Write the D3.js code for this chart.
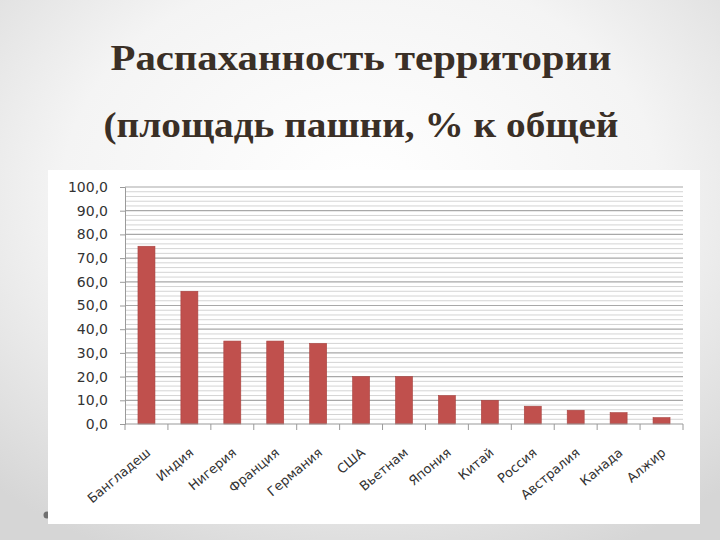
<!DOCTYPE html>
<html><head><meta charset="utf-8">
<script src="https://cdn.jsdelivr.net/npm/d3@7"></script>
<style>html,body{margin:0;padding:0;background:#fff;}svg{display:block;}</style>
</head><body>
<svg id="c" width="720" height="540"></svg>
<script>
const titleLines = ["Распаханность территории", "(площадь пашни, % к общей"];
const categories = ["Бангладеш","Индия","Нигерия","Франция","Германия","США","Вьетнам","Япония","Китай","Россия","Австралия","Канада","Алжир"];
const values = [75, 56, 35, 35, 34, 20, 20, 12, 10, 7.5, 5.8, 4.8, 2.7];
const yTicks = [0,10,20,30,40,50,60,70,80,90,100];
const yMinor = d3.range(0, 101, 2);

const svg = d3.select("#c");
const defs = svg.append("defs");
const rg = defs.append("radialGradient").attr("id","bg").attr("cx","50%").attr("cy","35%").attr("r","75%");
rg.append("stop").attr("offset","0%").attr("stop-color","#ffffff");
rg.append("stop").attr("offset","55%").attr("stop-color","#f4f4f4");
rg.append("stop").attr("offset","100%").attr("stop-color","#d6d6d6");
svg.append("rect").attr("width",720).attr("height",540).attr("fill","url(#bg)");

// bullet dot
svg.append("circle").attr("cx",47).attr("cy",515).attr("r",3.5).attr("fill","#707070");

// titles
const titleY = [70, 137];
const titleW = [501, 515];
svg.selectAll("text.title").data(titleLines).join("text")
  .attr("class","title")
  .attr("x", 361).attr("y",(d,i)=>titleY[i])
  .attr("text-anchor","middle")
  .attr("font-family","'Liberation Serif','DejaVu Serif',serif")
  .attr("font-weight","bold").attr("font-size",36)
  .attr("fill","#3a2f26")
  .attr("textLength",(d,i)=>titleW[i]).attr("lengthAdjust","spacingAndGlyphs")
  .text(d=>d);

// white chart box
svg.append("rect").attr("x",48).attr("y",170).attr("width",652).attr("height",354).attr("fill","#ffffff");

const m = {left:125, right:683, top:187, bottom:424};
const x = d3.scaleBand().domain(categories).range([m.left, m.right]).paddingInner(0.6).paddingOuter(0.3);
const xb = d3.scaleBand().domain(categories).range([m.left, m.right]);
const y = d3.scaleLinear().domain([0,100]).range([m.bottom, m.top]);

const g = svg.append("g");
// minor gridlines
g.selectAll("line.minor").data(yMinor.filter(v=>v%10!==0)).join("line")
  .attr("x1",m.left).attr("x2",m.right).attr("y1",d=>y(d)).attr("y2",d=>y(d))
  .attr("stroke","#d4d4d4").attr("stroke-width",1);
// major gridlines
g.selectAll("line.major").data(yTicks.filter(v=>v>0)).join("line")
  .attr("x1",m.left).attr("x2",m.right).attr("y1",d=>y(d)).attr("y2",d=>y(d))
  .attr("stroke","#a8a8a8").attr("stroke-width",1.2);

// bars
g.selectAll("rect.bar").data(values).join("rect")
  .attr("x",(d,i)=>xb(categories[i]) + xb.bandwidth()/2 - 8.5)
  .attr("width",17)
  .attr("y",d=>y(d)).attr("height",d=>y(0)-y(d))
  .attr("fill","#c0504d").attr("stroke","#a84340").attr("stroke-width",0.6);

// y axis
const yAxis = d3.axisLeft(y).tickValues(yTicks).tickSize(5).tickFormat(d=>d3.format(".1f")(d).replace(".",","));
const ya = svg.append("g").attr("transform",`translate(${m.left},0)`).call(yAxis);
ya.select(".domain").attr("stroke","#9a9a9a");
ya.selectAll(".tick line").attr("stroke","#9a9a9a");
ya.selectAll(".tick text").attr("x",-17).attr("font-family","'DejaVu Sans',sans-serif").attr("font-size",14).attr("fill","#333");

// x axis
const xa = svg.append("g").attr("transform",`translate(0,${m.bottom})`);
xa.append("line").attr("x1",m.left).attr("x2",m.right).attr("stroke","#9a9a9a").attr("stroke-width",1.2);
const bounds = categories.map(c=>xb(c)).concat([m.right]);
xa.selectAll("line.t").data(bounds).join("line")
  .attr("x1",d=>d).attr("x2",d=>d).attr("y1",0).attr("y2",6).attr("stroke","#9a9a9a");
xa.selectAll("text").data(categories).join("text")
  .attr("transform",d=>`translate(${xb(d)+xb.bandwidth()/2+5},30) rotate(-40)`)
  .attr("text-anchor","end")
  .attr("font-family","'DejaVu Sans',sans-serif").attr("font-size",13).attr("fill","#333")
  .text(d=>d);
</script>
</body></html>
